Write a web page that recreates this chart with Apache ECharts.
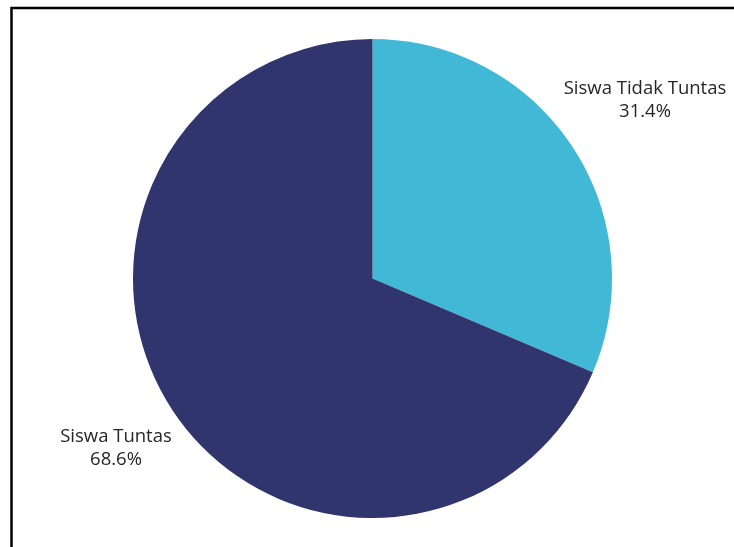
<!DOCTYPE html>
<html>
<head>
<meta charset="utf-8">
<script src="https://cdn.jsdelivr.net/npm/echarts@6/dist/echarts.min.js"></script>
<style>
html,body{margin:0;padding:0;background:#fff;}
#chart{width:734px;height:547px;}
</style>
</head>
<body>
<div id="chart"></div>
<script>
var categories = ['Siswa Tidak Tuntas', 'Siswa Tuntas'];
var values = [31.4, 68.6];
var colors = ['#41b8d5', '#31356e'];
var labelPos = [[645, 100], [116, 448]];

var chart = echarts.init(document.getElementById('chart'));
chart.setOption({
  animation: false,
  graphic: [{
    type: 'rect',
    shape: { x: 11.5, y: 8, width: 900, height: 800 },
    style: { fill: 'none', stroke: '#000', lineWidth: 2.5 },
    silent: true
  }],
  series: [{
    type: 'pie',
    center: [372.5, 278.5],
    radius: [0, 239.5],
    startAngle: 90,
    clockwise: true,
    data: categories.map(function (c, i) {
      return { name: c, value: values[i], itemStyle: { color: colors[i] } };
    }),
    label: {
      show: true,
      position: 'outside',
      formatter: function (p) { return p.name + '\n' + p.value.toFixed(1) + '%'; },
      fontFamily: 'Open Sans',
      fontSize: 18.5,
      lineHeight: 23,
      color: '#262626',
      align: 'center',
      overflow: 'none',
      width: 300
    },
    labelLine: { show: false },
    labelLayout: function (p) {
      return { x: labelPos[p.dataIndex][0], y: labelPos[p.dataIndex][1], align: 'center', verticalAlign: 'middle' };
    }
  }]
});
</script>
</body>
</html>
